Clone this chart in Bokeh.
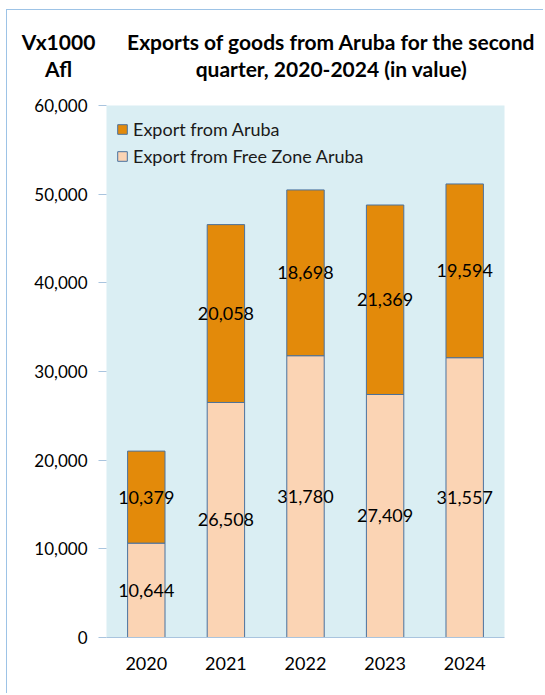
from bokeh.plotting import figure
from bokeh.models import (ColumnDataSource, LabelSet, NumeralTickFormatter,
                          FixedTicker, Range1d, Legend, LegendItem)
from bokeh.core.properties import value
from bokeh.embed import file_html
from bokeh.resources import INLINE

years = ["2020", "2021", "2022", "2023", "2024"]
free_zone = [10644, 26508, 31780, 27409, 31557]
aruba = [10379, 20058, 18698, 21369, 19594]
y_ticks = [0, 10000, 20000, 30000, 40000, 50000, 60000]
title_lines = ["Exports of goods from Aruba for the second", "quarter, 2020-2024 (in value)"]
unit_lines = ["Vx1000", "Afl"]

FONT = "Lato"
C_ARUBA = "#E38A0A"
C_FREE = "#FBD4B4"
C_EDGE = "#4A729E"
FRAME = "#9DC3E6"

W, HEAD, H = 537, 86, 598

# ---- header (title + unit) ----
hdr = figure(width=W, height=HEAD, x_range=Range1d(0, W), y_range=Range1d(HEAD, 0),
             output_backend="svg", toolbar_location=None,
             min_border_left=0, min_border_right=0, min_border_top=0, min_border_bottom=0)
hdr.axis.visible = False
hdr.grid.visible = False
hdr.outline_line_color = None
hdr.background_fill_color = "white"
hdr.border_fill_color = "white"
hdr.styles = {"border-top": f"1px solid {FRAME}", "border-left": f"1px solid {FRAME}",
              "margin-top": "9px", "margin-left": "6px"}
tsrc = ColumnDataSource(dict(x=[324, 324, 51, 51], y=[31, 58, 31, 58],
                             t=title_lines + unit_lines))
hdr.text(x="x", y="y", text="t", source=tsrc, text_font=value(FONT),
         text_font_size="21px", text_font_style="bold", text_align="center",
         text_baseline="middle", text_color="black")

# ---- main chart ----
src = ColumnDataSource(dict(
    year=years,
    free=free_zone,
    aruba=aruba,
    free_mid=[f / 2 for f in free_zone],
    aruba_mid=[f + a / 2 for f, a in zip(free_zone, aruba)],
    free_lbl=[f"{v:,}" for v in free_zone],
    aruba_lbl=[f"{v:,}" for v in aruba],
))

p = figure(x_range=years, y_range=Range1d(0, 60000), width=W, height=H,
           output_backend="svg", toolbar_location=None,
           min_border_left=99, min_border_right=40, min_border_top=10,
           min_border_bottom=56)
p.styles = {"border-left": f"1px solid {FRAME}", "margin-left": "6px"}
p.background_fill_color = "#DAEEF3"
p.border_fill_color = "white"
p.outline_line_color = None
p.xgrid.grid_line_color = None
p.ygrid.grid_line_color = None

r = p.vbar_stack(["free", "aruba"], x="year", width=0.47, source=src,
                 fill_color=[C_FREE, C_ARUBA], line_color=C_EDGE, line_width=1)

lbl_style = dict(text_font=value(FONT), text_font_size="18px", text_color="black",
                 text_align="center", text_baseline="middle")
p.add_layout(LabelSet(x="year", y="free_mid", text="free_lbl", source=src, **lbl_style))
p.add_layout(LabelSet(x="year", y="aruba_mid", text="aruba_lbl", source=src, **lbl_style))

legend = Legend(items=[LegendItem(label="Export from Aruba", renderers=[r[1]]),
                       LegendItem(label="Export from Free Zone Aruba", renderers=[r[0]])],
                location="top_left")
legend.background_fill_alpha = 0
legend.border_line_color = None
legend.margin = 10
legend.padding = 4
legend.spacing = 0
legend.label_height = 27
legend.glyph_height = 12
legend.glyph_width = 12
legend.label_standoff = 5
legend.label_text_font = FONT
legend.label_text_font_size = "18px"
legend.label_text_color = "#1a1a1a"
p.add_layout(legend)

p.yaxis.ticker = FixedTicker(ticks=y_ticks)
p.yaxis.formatter = NumeralTickFormatter(format="0,0")
p.yaxis.axis_line_color = None
p.yaxis.major_tick_line_color = "#A9C4DE"
p.yaxis.major_tick_out = 8
p.yaxis.major_tick_in = 0
p.yaxis.minor_tick_line_color = None
p.yaxis.major_label_text_font = FONT
p.yaxis.major_label_text_font_size = "17px"
p.yaxis.major_label_text_color = "black"
p.yaxis.major_label_standoff = 11

p.xaxis.axis_line_color = "#A9C4DE"
p.xaxis.major_tick_line_color = None
p.xaxis.minor_tick_line_color = None
p.xaxis.major_label_text_font = FONT
p.xaxis.major_label_text_font_size = "18px"
p.xaxis.major_label_text_color = "black"
p.xaxis.major_label_standoff = 13

open("out.html", "w").write(file_html([hdr, p], INLINE))
